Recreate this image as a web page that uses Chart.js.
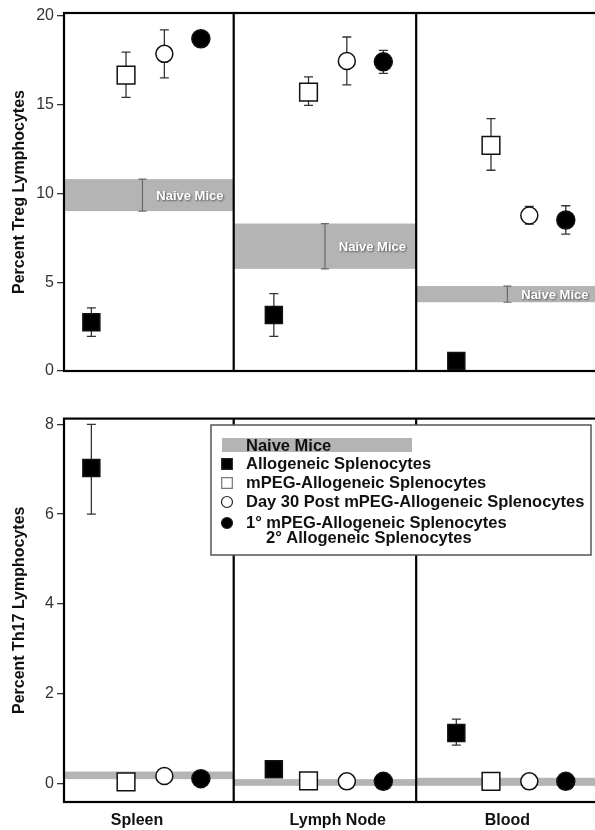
<!DOCTYPE html>
<html>
<head>
<meta charset="utf-8">
<script src="https://cdn.jsdelivr.net/npm/chart.js@4.4.0/dist/chart.umd.min.js"></script>
<style>
  html, body { margin: 0; padding: 0; background: #fff; overflow: hidden; }
  #wrap { position: relative; width: 595px; height: 830px; }
  #treg { position: absolute; left: 0; top: 0; }
  #th17 { position: absolute; left: 0; top: 406px; }
</style>
</head>
<body>
<div id="wrap">
  <canvas id="treg" width="595" height="406"></canvas>
  <canvas id="th17" width="595" height="424"></canvas>
</div>
<script>
// Tissues (panels) and treatment groups
const tissues = ['Spleen', 'Lymph Node', 'Blood'];
const groupNames = [
  'Allogeneic Splenocytes',
  'mPEG-Allogeneic Splenocytes',
  'Day 30 Post mPEG-Allogeneic Splenocytes',
  '1° mPEG-Allogeneic Splenocytes',
];
const groupNames2 = ['', '', '', '2° Allogeneic Splenocytes'];

// Percent Treg (per tissue: Spleen, Lymph Node, Blood)
const tregAllo    = [2.75, 3.15, 0.57];
const tregAlloLo  = [1.95, 1.95, null];
const tregAlloHi  = [3.55, 4.35, null];
const tregMpeg    = [16.65, 15.7, 12.7];
const tregMpegLo  = [15.4, 14.95, 11.3];
const tregMpegHi  = [17.95, 16.55, 14.2];
const tregDay30   = [17.85, 17.45, 8.75];
const tregDay30Lo = [16.5, 16.1, 8.27];
const tregDay30Hi = [19.2, 18.8, 9.27];
const tregPrime   = [18.7, 17.4, 8.5];
const tregPrimeLo = [null, 16.75, 7.7];
const tregPrimeHi = [null, 18.05, 9.3];
const tregNaiveLo = [9.0, 5.75, 3.87];
const tregNaiveHi = [10.8, 8.3, 4.78];
const tregTicks = [0, 5, 10, 15, 20];

// Percent Th17
const th17Allo    = [7.03, 0.31, 1.12];
const th17AlloLo  = [6.0, null, 0.85];
const th17AlloHi  = [8.0, null, 1.43];
const th17Mpeg    = [0.03, 0.05, 0.04];
const th17Day30   = [0.16, 0.04, 0.04];
const th17Prime   = [0.1, 0.04, 0.04];
const th17NaiveLo = [0.09, -0.06, -0.06];
const th17NaiveHi = [0.26, 0.09, 0.12];
const th17Ticks = [0, 2, 4, 6, 8];

const FONT = "'Liberation Sans', Arial, Helvetica, sans-serif";
const groupOffset = [0.22, 0.41, 0.62, 0.82];
const labelShift = [-0.03, 0.07, 0];
const groupStyle = [
  { pointStyle: 'rect', radius: 12, fill: '#000' },
  { pointStyle: 'rect', radius: 12.5, fill: '#fff' },
  { pointStyle: 'circle', radius: 8.5, fill: '#fff' },
  { pointStyle: 'circle', radius: 9, fill: '#000' },
];

function makeDataset(g, means, lo, hi) {
  const st = groupStyle[g];
  return {
    label: groupNames[g],
    data: means.map((v, i) => ({ x: i + groupOffset[g], y: v })),
    errLo: lo || [],
    errHi: hi || [],
    pointStyle: st.pointStyle,
    pointRadius: st.radius,
    pointHoverRadius: st.radius,
    pointBackgroundColor: st.fill,
    pointBorderColor: '#111',
    pointBorderWidth: 1.5,
    showLine: false,
  };
}

function panelPlugin(bandLo, bandHi, withLabel, legend) {
  return {
    id: 'panels',
    beforeDatasetsDraw(chart) {
      const { ctx, chartArea: a, scales: { x, y } } = chart;
      ctx.save();
      ctx.beginPath();
      ctx.rect(a.left, a.top, a.width, a.height);
      ctx.clip();
      // naive mice band
      bandLo.forEach((lo, i) => {
        const hi = bandHi[i];
        const x0 = x.getPixelForValue(i), x1 = x.getPixelForValue(i + 1);
        const y0 = y.getPixelForValue(hi), y1 = y.getPixelForValue(lo);
        ctx.fillStyle = '#b4b4b4';
        ctx.fillRect(x0, y0, x1 - x0, y1 - y0);
        if (withLabel) {
          const ex = x.getPixelForValue(i + 0.5);
          ctx.strokeStyle = '#6a6a6a';
          ctx.lineWidth = 1.2;
          ctx.beginPath();
          ctx.moveTo(ex, y0); ctx.lineTo(ex, y1);
          ctx.moveTo(ex - 4, y0); ctx.lineTo(ex + 4, y0);
          ctx.moveTo(ex - 4, y1); ctx.lineTo(ex + 4, y1);
          ctx.stroke();
          ctx.save();
          ctx.font = 'bold 13px ' + FONT;
          ctx.fillStyle = '#fff';
          ctx.textAlign = 'center';
          ctx.textBaseline = 'middle';
          ctx.shadowColor = 'rgba(0,0,0,0.55)';
          ctx.shadowBlur = 2;
          ctx.shadowOffsetX = 1;
          ctx.shadowOffsetY = 1;
          ctx.fillText('Naive Mice', x.getPixelForValue(i + 0.76), (y0 + y1) / 2 + 1);
          ctx.restore();
        }
      });
      // error bars
      ctx.strokeStyle = '#333';
      ctx.lineWidth = 1.3;
      chart.data.datasets.forEach(ds => {
        ds.errLo.forEach((lo, i) => {
          const hi = ds.errHi[i];
          if (lo == null || hi == null) return;
          const px = x.getPixelForValue(ds.data[i].x);
          const pl = y.getPixelForValue(lo), ph = y.getPixelForValue(hi);
          ctx.beginPath();
          ctx.moveTo(px, pl); ctx.lineTo(px, ph);
          ctx.moveTo(px - 4.5, pl); ctx.lineTo(px + 4.5, pl);
          ctx.moveTo(px - 4.5, ph); ctx.lineTo(px + 4.5, ph);
          ctx.stroke();
        });
      });
      ctx.restore();
    },
    afterDraw(chart) {
      const { ctx, chartArea: a, scales: { x } } = chart;
      ctx.save();
      ctx.strokeStyle = '#000';
      ctx.lineWidth = 2.2;
      ctx.beginPath();
      [1, 2].forEach(v => {
        const px = x.getPixelForValue(v);
        ctx.moveTo(px, a.top); ctx.lineTo(px, a.bottom);
      });
      ctx.stroke();
      ctx.strokeRect(a.left, a.top, a.width + 3, a.height);
      ctx.restore();
      if (legend) drawLegend(ctx);
    },
  };
}

function drawLegend(ctx) {
  const H = Chart.helpers;
  ctx.save();
  ctx.fillStyle = '#fff';
  ctx.fillRect(211, 19, 380, 130);
  ctx.strokeStyle = '#555';
  ctx.lineWidth = 1.5;
  ctx.strokeRect(211, 19, 380, 130);
  ctx.fillStyle = '#b4b4b4';
  ctx.fillRect(222, 32, 190, 14);
  ctx.font = 'bold 16.5px ' + FONT;
  ctx.fillStyle = '#111';
  ctx.textBaseline = 'middle';
  ctx.fillText('Naive Mice', 246, 40);
  const rows = [58, 77, 96, 117];
  rows.forEach((ry, g) => {
    const st = groupStyle[g];
    ctx.fillStyle = st.fill;
    ctx.strokeStyle = g === 1 ? '#777' : '#222';
    ctx.lineWidth = 1.2;
    H.drawPoint(ctx, { pointStyle: st.pointStyle, radius: st.pointStyle === 'rect' ? 7.5 : 5.5, borderWidth: 1.2 }, 227, ry);
    ctx.fillStyle = '#111';
    ctx.fillText(groupNames[g], 246, ry);
    if (groupNames2[g]) ctx.fillText(groupNames2[g], 266, ry + 15);
  });
  ctx.restore();
}

function baseOptions(yMin, yMax, ticks, title, showX) {
  return {
    responsive: false,
    animation: false,
    events: [],
    layout: {
      autoPadding: false,
      padding: showX ? { top: 6, bottom: 0, left: 0, right: 0 } : { top: 13, bottom: 7, left: 0, right: 0 },
    },
    plugins: { legend: { display: false }, tooltip: { enabled: false } },
    scales: {
      x: {
        type: 'linear',
        min: 0.07,
        max: 2.98,
        display: showX,
        afterBuildTicks: s => { s.ticks = tissues.map((t, i) => ({ value: i + 0.5 + labelShift[i] })); },
        afterFit: s => { s.height = 28; },
        grid: { display: false, drawTicks: false },
        border: { display: false },
        ticks: {
          padding: 9,
          color: '#111',
          maxRotation: 0,
          font: { family: FONT, size: 16, weight: 'bold' },
          callback: (v, i) => tissues[i],
        },
      },
      y: {
        min: yMin,
        max: yMax,
        afterBuildTicks: s => { s.ticks = ticks.map(v => ({ value: v })); },
        afterFit: s => { s.width = 64; },
        grid: { drawOnChartArea: false, tickLength: 7, color: '#333', lineWidth: 1.3 },
        border: { display: false },
        ticks: { padding: 3, color: '#333', font: { family: FONT, size: 16 } },
        title: {
          display: true,
          text: title,
          color: '#111',
          padding: { top: 10, bottom: 0 },
          font: { family: FONT, size: 16, weight: 'bold' },
        },
      },
    },
  };
}

new Chart(document.getElementById('treg'), {
  type: 'scatter',
  data: {
    datasets: [
      makeDataset(0, tregAllo, tregAlloLo, tregAlloHi),
      makeDataset(1, tregMpeg, tregMpegLo, tregMpegHi),
      makeDataset(2, tregDay30, tregDay30Lo, tregDay30Hi),
      makeDataset(3, tregPrime, tregPrimeLo, tregPrimeHi),
    ],
  },
  options: baseOptions(0, 20.15, tregTicks, 'Percent Treg Lymphocytes', false),
  plugins: [panelPlugin(tregNaiveLo, tregNaiveHi, true, false)],
});

new Chart(document.getElementById('th17'), {
  type: 'scatter',
  data: {
    datasets: [
      makeDataset(0, th17Allo, th17AlloLo, th17AlloHi),
      makeDataset(1, th17Mpeg),
      makeDataset(2, th17Day30),
      makeDataset(3, th17Prime),
    ],
  },
  options: baseOptions(-0.42, 8.13, th17Ticks, 'Percent Th17 Lymphocytes', true),
  plugins: [panelPlugin(th17NaiveLo, th17NaiveHi, false, true)],
});
</script>
</body>
</html>
